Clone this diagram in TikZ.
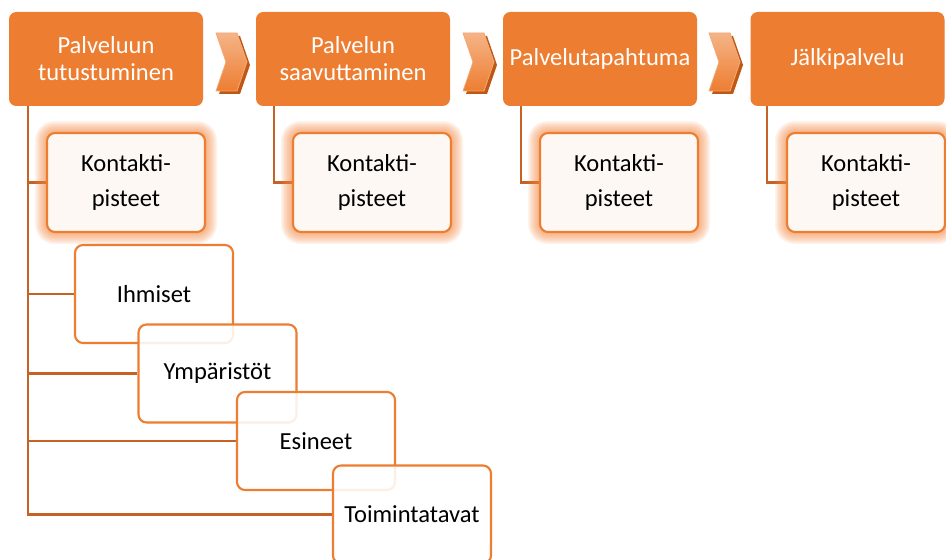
\documentclass[tikz,border=0pt]{standalone}
\usepackage{fontspec}
\setmainfont{Carlito}
\usetikzlibrary{backgrounds}
\definecolor{org}{RGB}{237,125,49}
\definecolor{orgline}{RGB}{197,98,38}
\definecolor{cream}{RGB}{253,248,243}
\definecolor{glowc}{RGB}{243,135,65}
\definecolor{chevtop}{RGB}{245,180,135}
\definecolor{chevshadow}{RGB}{190,88,20}
\begin{document}
\begin{tikzpicture}[x=0.75pt,y=-0.75pt,
  topbox/.style={fill=org, draw=none, rounded corners=5.5pt, minimum width=145.5pt,
    minimum height=70.5pt, inner sep=0pt, text=white, align=center,
    font=\fontsize{18.4}{20.25}\selectfont},
  contactbox/.style={fill=cream, draw=org, line width=1.6pt, rounded corners=6pt,
    minimum width=118.5pt, minimum height=74.25pt, inner sep=0pt, align=center,
    font=\fontsize{18.4}{26.25}\selectfont},
  subbox/.style={fill=white, fill opacity=0.88, text opacity=1, draw=org, draw opacity=1,
    line width=1.6pt, rounded corners=6pt,
    minimum width=118.5pt, minimum height=73.5pt, inner sep=0pt, align=center,
    font=\fontsize{18.4}{21}\selectfont},
  conn/.style={draw=orgline, line width=1.6pt},
  chevron/.style={top color=chevtop, bottom color=org, draw=chevtop!80!org, line width=0.6pt},
  chevronshadow/.style={fill=chevshadow}
]
\clip (0,0) rectangle (946,560);
\useasboundingbox (0,0) rectangle (946,560);

% top boxes
\node[topbox] (t1) at (106,59) {Palveluun\\tutustuminen};
\node[topbox] (t2) at (353,59) {Palvelun\\saavuttaminen};
\node[topbox] (t3) at (600,59) {Palvelutapahtuma};
\node[topbox] (t4) at (847.5,59) {Jälkipalvelu};

% chevrons
\foreach \cx in {231,478,724}{
  \fill[chevronshadow] (\cx-12,36) -- (\cx+9,36) -- (\cx+19,65) -- (\cx+9,94) -- (\cx-12,94) -- (\cx-2,65) -- cycle;
  \path[chevron] (\cx-15,33) -- (\cx+6,33) -- (\cx+16,62) -- (\cx+6,91) -- (\cx-15,91) -- (\cx-5,62) -- cycle;
}

% glows
\foreach \cx in {126,372,619,866}{
  \foreach \g in {8,7,...,1}{
    \pgfmathsetmacro{\rc}{6+1.1*\g}
    \fill[glowc, opacity=0.11, rounded corners=\rc pt] (\cx-79-1.5*\g,133-1.5*\g) rectangle (\cx+79+1.5*\g,232+1.5*\g);
  }
}

% contact boxes
\node[contactbox] (k1) at (126,182.5) {Kontakti-\\pisteet};
\node[contactbox] (k2) at (372,182.5) {Kontakti-\\pisteet};
\node[contactbox] (k3) at (619,182.5) {Kontakti-\\pisteet};
\node[contactbox] (k4) at (866,182.5) {Kontakti-\\pisteet};

% sub boxes
\node[subbox] (p1) at (154,294) {Ihmiset};
\node[subbox] (p2) at (217.5,373.5) {Ympäristöt};
\node[subbox] (p3) at (316,441) {Esineet};
\node[subbox] (p4) at (412,514.5) {Toimintatavat};

% connectors
\begin{scope}[on background layer]
  \coordinate (v1) at ([shift={(19,0)}]t1.south west);
  \coordinate (v2) at ([shift={(18,0)}]t2.south west);
  \coordinate (v3) at ([shift={(18,0)}]t3.south west);
  \coordinate (v4) at ([shift={(17,0)}]t4.south west);
  \draw[conn] (v1) |- (k1.west);
  \draw[conn] (v1) |- (p1.west);
  \draw[conn] (v1) |- (p2.west);
  \draw[conn] (v1) |- (p3.west);
  \draw[conn] (v1) |- (p4.west);
  \draw[conn] (v2) |- (k2.west);
  \draw[conn] (v3) |- (k3.west);
  \draw[conn] (v4) |- (k4.west);
\end{scope}
\end{tikzpicture}
\end{document}
